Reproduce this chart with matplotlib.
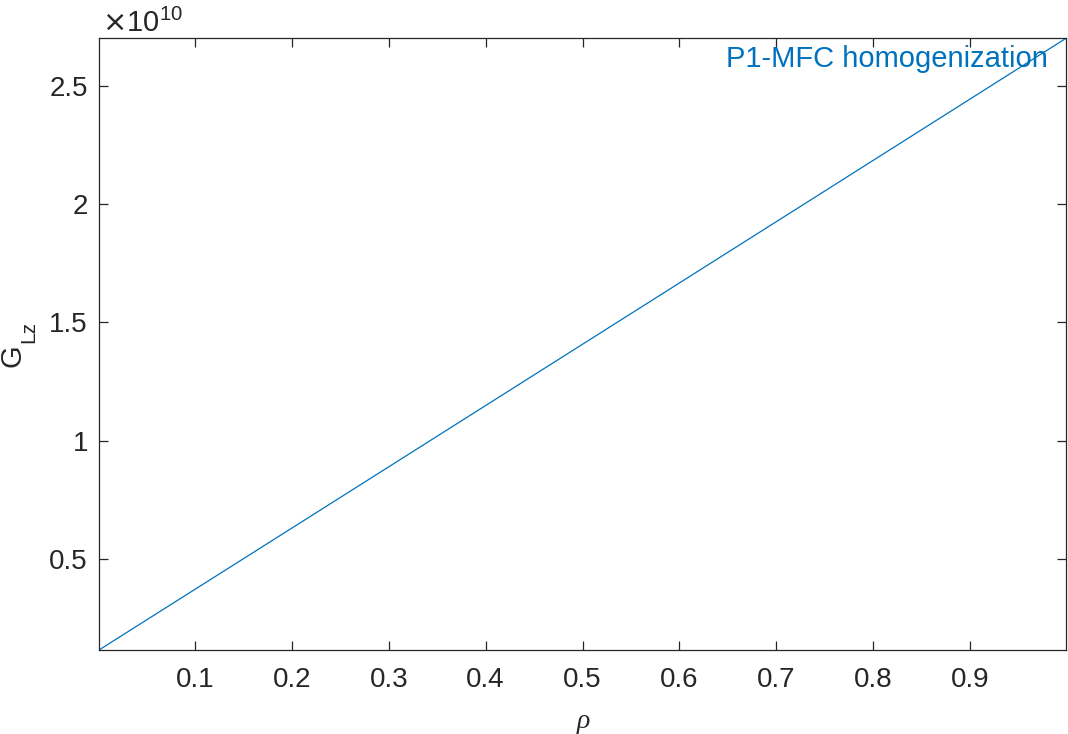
import matplotlib
matplotlib.use("Agg")
import matplotlib.pyplot as plt
import numpy as np

# Data
rho = [0.001, 0.25, 0.5, 0.75, 0.999]
G_Lz = [0.117e10, 0.761e10, 1.408e10, 2.055e10, 2.700e10]
xticks = [0.1, 0.2, 0.3, 0.4, 0.5, 0.6, 0.7, 0.8, 0.9]
yticks = [0.5e10, 1.0e10, 1.5e10, 2.0e10, 2.5e10]
ytick_labels = ["0.5", "1", "1.5", "2", "2.5"]
series_label = "P1-MFC homogenization"

plt.rcParams['font.family'] = ['Liberation Sans', 'DejaVu Sans']
dark = '#262626'
blue = '#0072BD'
W, H = 1068, 734

fig = plt.figure(figsize=(W/100, H/100), dpi=100)
ax = fig.add_axes([99/W, 1 - 650/H, (1066-99)/W, (650-38.3)/H])

ax.plot(rho, G_Lz, color=blue, linewidth=0.9)

ax.set_xlim(rho[0], rho[-1])
ax.set_ylim(G_Lz[0], G_Lz[-1])
ax.set_xticks(xticks)
ax.set_xticklabels([f"{t:g}" for t in xticks])
ax.set_yticks(yticks)
ax.set_yticklabels(ytick_labels)

ax.tick_params(direction='in', length=6.5, width=0.9, colors=dark, labelsize=20,
               top=True, right=True)
ax.tick_params(axis='x', pad=12)
ax.tick_params(axis='y', pad=8)
for sp in ax.spines.values():
    sp.set_color(dark)
    sp.set_linewidth(0.9)

# x label (italic serif rho)
fig.text(583/W, 1 - 722/H, 'ρ', fontsize=20, color=dark, family='Liberation Serif',
         style='italic', ha='center', va='center')

# y label G_Lz
fig.text(13/W, 1 - 356/H, 'G', fontsize=21, color=dark, rotation=90,
         ha='center', va='center')
fig.text(29/W, 1 - 332/H, 'Lz', fontsize=15, color=dark, rotation=90,
         ha='center', va='center')

# exponent
fig.text(102/W, 1 - 32/H, r'$\times$10$^{\mathregular{10}}$', fontsize=21, color=dark,
         ha='left', va='baseline')

ax.text(1048/W, 1 - 67/H, series_label, transform=fig.transFigure, fontsize=21,
        color=blue, ha='right', va='baseline')

fig.savefig("out.png", dpi=100)
